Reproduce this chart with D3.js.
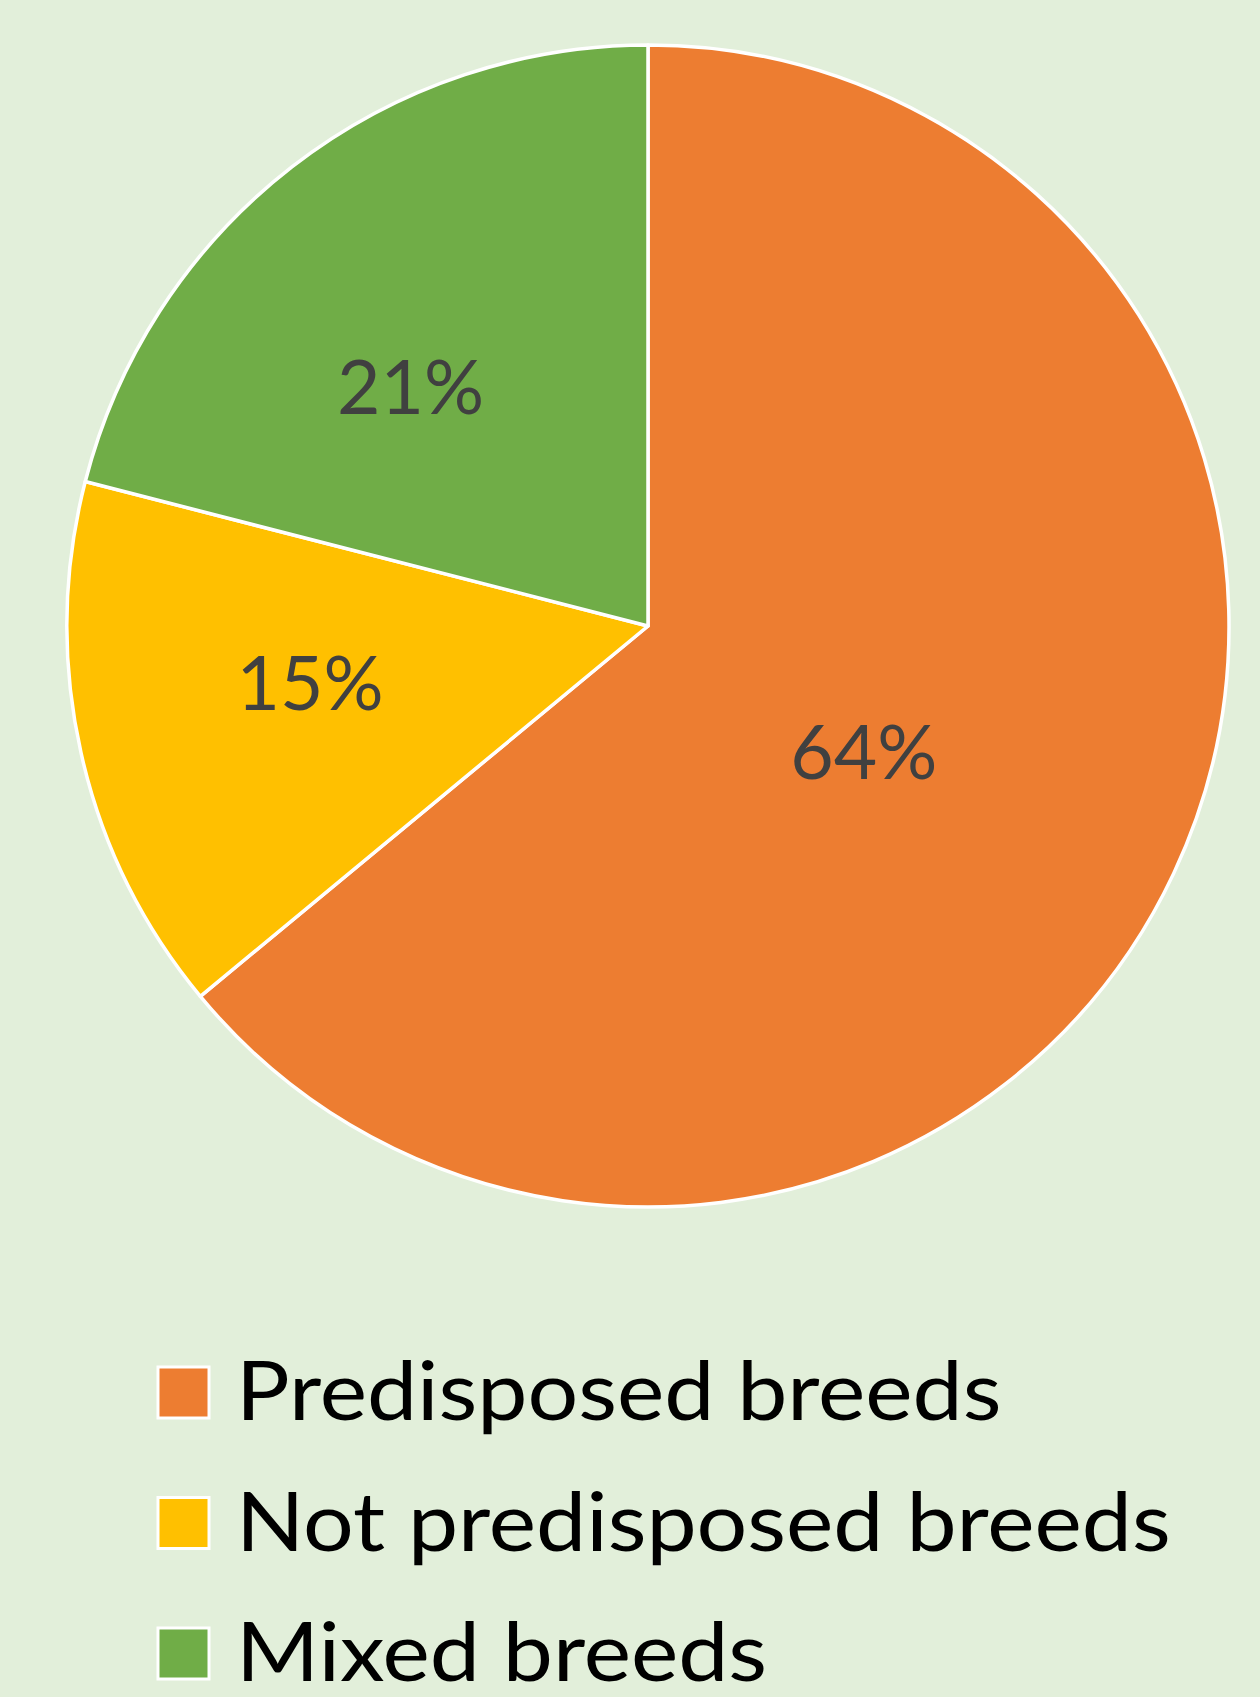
<!DOCTYPE html>
<html>
<head>
<meta charset="utf-8">
<script src="https://cdn.jsdelivr.net/npm/d3@7"></script>
<style>
  html, body { margin: 0; padding: 0; background: #E2EFDA; }
  svg { display: block; }
  text { font-family: Lato, "Open Sans", sans-serif; }
</style>
</head>
<body>
<svg id="chart" width="1260" height="1697"></svg>
<script>
// breed groups and their share of cases (%)
const categories = ['Predisposed breeds', 'Not predisposed breeds', 'Mixed breeds'];
const shares = [64, 15, 21];
const colors = ['#ED7D31', '#FFC000', '#70AD47'];

// where Excel put each data label: radius fraction and angle nudge (deg)
const labelRadius = [0.43, 0.59, 0.58];
const labelNudge = [5, 3, -7];

const W = 1260, H = 1697;
const cx = 648, cy = 626, R = 581;
const legendStretch = 1.105; // Lato is narrower than the original Calibri

const svg = d3.select('#chart');
svg.append('rect').attr('width', W).attr('height', H).attr('fill', '#E2EFDA');

const data = categories.map((c, i) => ({ name: c, value: shares[i], idx: i }));

const pie = d3.pie().value(d => d.value).sort(null);
const arcs = pie(data);
const arc = d3.arc().innerRadius(0).outerRadius(R);
const color = d3.scaleOrdinal().domain(categories).range(colors);

const g = svg.append('g').attr('transform', `translate(${cx},${cy})`);

g.selectAll('path.slice')
  .data(arcs)
  .enter()
  .append('path')
  .attr('class', 'slice')
  .attr('d', arc)
  .attr('fill', d => color(d.data.name))
  .attr('stroke', '#fff')
  .attr('stroke-width', 3.5)
  .attr('stroke-linejoin', 'round');

// percentage labels
g.selectAll('text.pct')
  .data(arcs)
  .enter()
  .append('text')
  .attr('class', 'pct')
  .attr('transform', d => {
    const i = d.data.idx;
    const a = (d.startAngle + d.endAngle) / 2 + labelNudge[i] * Math.PI / 180;
    const r = R * labelRadius[i];
    return `translate(${r * Math.sin(a)},${-r * Math.cos(a)})`;
  })
  .attr('text-anchor', 'middle')
  .attr('dy', '0.36em')
  .attr('font-size', 75)
  .attr('fill', '#404040')
  .text(d => d3.format('.0%')(d.data.value / 100));

// legend
const rowY = d3.scalePoint().domain(categories).range([1420, 1681]);
const legend = svg.append('g');
const rows = legend.selectAll('g.row')
  .data(data)
  .enter()
  .append('g')
  .attr('class', 'row')
  .attr('transform', d => `translate(0,${rowY(d.name)})`);

rows.append('rect')
  .attr('x', 158)
  .attr('y', -53)
  .attr('width', 51)
  .attr('height', 51)
  .attr('fill', d => color(d.name))
  .attr('stroke', '#fff')
  .attr('stroke-width', 3);

rows.append('text')
  .attr('x', 236)
  .attr('y', 0)
  .attr('font-size', 81)
  .attr('fill', '#000')
  .text(d => d.name)
  .each(function () {
    const len = this.getComputedTextLength();
    d3.select(this)
      .attr('textLength', len * legendStretch)
      .attr('lengthAdjust', 'spacingAndGlyphs');
  });
</script>
</body>
</html>
